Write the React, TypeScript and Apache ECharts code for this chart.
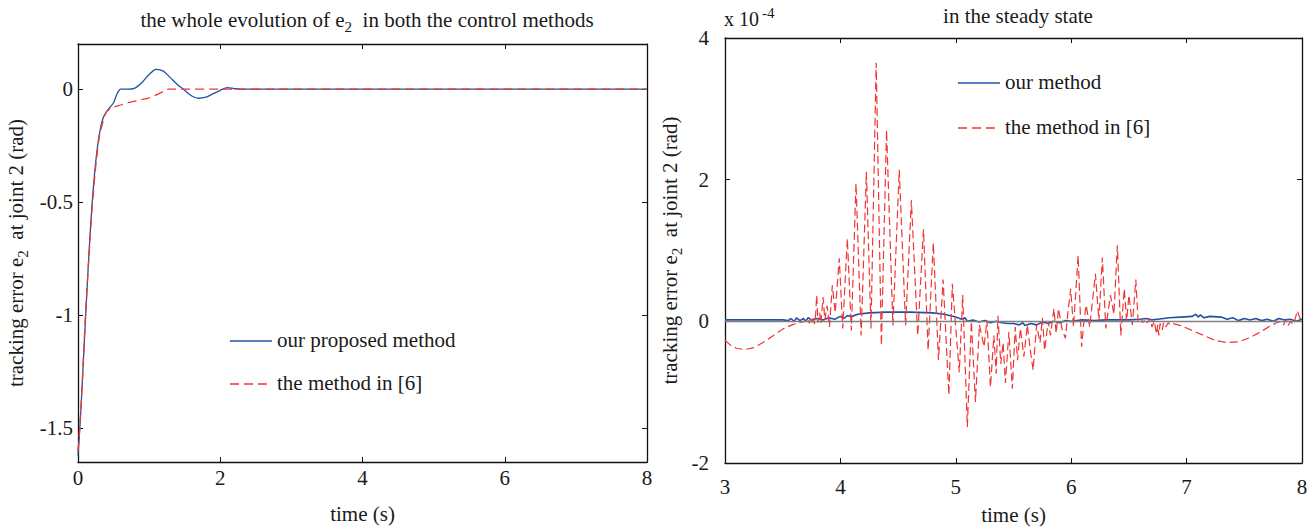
import React, { useEffect, useRef } from "react";
import * as echarts from "echarts";

const FONT = "'Liberation Serif', 'DejaVu Serif', serif";
const TXT = "#1a1a1a";
const BLUE = "#2251a3";
const RED = "#f03535";

// Left panel: whole evolution
const leftYTicks = [-1.5, -1, -0.5, 0];
const leftBlueT = [0, 0.03, 0.06, 0.1, 0.15, 0.2, 0.25, 0.3, 0.35, 0.4, 0.45, 0.5, 0.55, 0.6, 0.7, 0.8, 0.9, 1.0, 1.1, 1.2, 1.3, 1.4, 1.5, 1.6, 1.7, 1.8, 1.9, 2.0, 2.1, 2.2, 2.3, 8];
const leftBlueV = [-1.62, -1.48, -1.3, -1.05, -0.75, -0.5, -0.32, -0.2, -0.13, -0.1, -0.08, -0.06, -0.02, 0, 0, 0.005, 0.03, 0.065, 0.088, 0.08, 0.05, 0.02, -0.005, -0.03, -0.04, -0.035, -0.02, -0.005, 0.007, 0.002, 0, 0];
const leftRedT = [0, 0.03, 0.06, 0.1, 0.15, 0.2, 0.25, 0.3, 0.35, 0.4, 0.5, 0.6, 0.7, 0.8, 0.9, 1.0, 1.1, 1.2, 1.27, 8];
const leftRedV = [-1.6, -1.47, -1.3, -1.03, -0.76, -0.52, -0.34, -0.21, -0.145, -0.1, -0.08, -0.07, -0.06, -0.053, -0.046, -0.038, -0.025, -0.01, 0, 0];

// Right panel: steady state (x 10^-4)
const rightBlueT = [3.0, 3.5, 3.55, 3.57, 3.6, 3.62, 3.65, 3.68, 3.7, 3.72, 3.75, 3.8, 3.85, 3.9, 3.95, 4.0, 4.03, 4.06, 4.1, 4.15, 4.25, 4.4, 4.6, 4.8, 4.9, 5.0, 5.05, 5.08, 5.1, 5.15, 5.2, 5.25, 5.3, 5.35, 5.4, 5.45, 5.5, 5.55, 5.58, 5.6, 5.65, 5.7, 5.75, 5.8, 5.85, 5.9, 5.95, 6.0, 6.1, 6.2, 6.3, 6.4, 6.5, 6.6, 6.65, 6.7, 6.75, 6.85, 6.95, 7.05, 7.08, 7.1, 7.12, 7.15, 7.2, 7.3, 7.35, 7.4, 7.45, 7.5, 7.55, 7.6, 7.65, 7.7, 7.75, 7.8, 7.85, 7.9, 7.95, 8.0];
const rightBlueV = [0.02, 0.02, 0.01, 0.04, 0.0, 0.05, 0.01, 0.04, 0.0, 0.05, 0.02, 0.04, 0.02, 0.05, 0.03, 0.07, 0.04, 0.08, 0.07, 0.1, 0.12, 0.13, 0.13, 0.12, 0.1, 0.06, 0.03, 0.05, 0.0, 0.02, -0.01, 0.01, -0.02, 0.0, -0.02, -0.03, -0.03, -0.05, -0.02, -0.06, -0.03, -0.05, -0.01, -0.03, 0.0, -0.02, 0.01, 0.0, 0.02, 0.01, 0.02, 0.02, 0.02, 0.03, 0.04, 0.02, 0.03, 0.05, 0.06, 0.07, 0.1, 0.06, 0.09, 0.05, 0.07, 0.06, 0.03, 0.05, 0.01, 0.04, 0.02, 0.04, 0.01, 0.03, 0.0, 0.04, 0.02, 0.03, 0.0, 0.03];
const rightRedT = [3.0, 3.05, 3.1, 3.17, 3.25, 3.33, 3.42, 3.5, 3.58, 3.65, 3.7, 3.72, 3.73, 3.745, 3.755, 3.765, 3.775, 3.785, 3.795, 3.805, 3.82, 3.83, 3.85, 3.865, 3.885, 3.905, 3.93, 3.955, 3.99, 4.02, 4.06, 4.095, 4.135, 4.18, 4.225, 4.265, 4.31, 4.355, 4.4, 4.455, 4.51, 4.565, 4.615, 4.67, 4.72, 4.76, 4.805, 4.85, 4.89, 4.94, 4.97, 5.03, 5.06, 5.1, 5.135, 5.17, 5.205, 5.245, 5.27, 5.3, 5.33, 5.35, 5.365, 5.39, 5.41, 5.43, 5.46, 5.49, 5.515, 5.535, 5.56, 5.59, 5.62, 5.645, 5.67, 5.7, 5.73, 5.75, 5.77, 5.8, 5.82, 5.85, 5.87, 5.89, 5.92, 5.95, 5.97, 5.995, 6.02, 6.06, 6.09, 6.11, 6.13, 6.16, 6.21, 6.24, 6.27, 6.3, 6.34, 6.37, 6.4, 6.43, 6.46, 6.48, 6.5, 6.53, 6.56, 6.58, 6.6, 6.62, 6.64, 6.66, 6.68, 6.7, 6.72, 6.74, 6.75, 6.76, 6.77, 6.79, 6.8, 6.82, 6.84, 6.86, 6.88, 6.95, 7.05, 7.15, 7.25, 7.35, 7.45, 7.55, 7.65, 7.72, 7.78, 7.82, 7.84, 7.86, 7.88, 7.9, 7.92, 7.94, 7.96, 7.98, 8.0];
const rightRedV = [-0.27, -0.34, -0.38, -0.4, -0.37, -0.3, -0.2, -0.11, -0.05, -0.015, 0.0, 0.04, -0.03, 0.06, -0.02, 0.07, -0.04, 0.09, 0.37, -0.02, 0.12, -0.03, 0.34, 0.02, 0.22, -0.08, 0.51, 0.12, 0.89, -0.1, 1.17, -0.13, 1.95, -0.2, 2.11, -0.1, 3.65, -0.34, 2.7, -0.06, 2.14, -0.06, 1.71, -0.2, 1.3, -0.41, 1.11, -0.55, 0.59, -1.04, 0.53, -0.72, 0.37, -1.49, 0.0, -1.14, -0.05, -0.36, 0.02, -0.93, -0.2, -0.74, 0.08, -0.6, -0.3, -0.87, -0.15, -0.95, -0.08, -0.55, -0.1, -0.5, -0.05, -0.4, -0.69, -0.05, -0.3, 0.05, -0.41, 0.0, -0.2, 0.18, -0.17, 0.18, -0.1, -0.24, 0.1, 0.46, -0.08, 0.93, -0.36, 0.0, 0.23, -0.08, 0.67, 0.0, 0.9, -0.1, 0.37, 0.1, 1.07, -0.2, 0.46, 0.0, 0.37, -0.05, 0.59, 0.0, 0.05, -0.02, 0.03, -0.02, 0.04, -0.08, 0.0, -0.18, -0.05, -0.2, -0.03, -0.12, -0.02, -0.08, -0.02, -0.05, -0.03, -0.06, -0.13, -0.2, -0.27, -0.3, -0.29, -0.23, -0.14, -0.07, -0.02, 0.0, -0.05, 0.02, -0.06, 0.0, -0.04, 0.03, 0.15, 0.05, 0.02];

const leftLegend = ["our proposed method", "the method in [6]"];
const rightLegend = ["our method", "the method in [6]"];

const zip = (t: number[], v: number[]) => t.map((x, i) => [x, v[i]]);

const FS = 21;
const axisLine = { show: true, onZero: false, lineStyle: { color: "#111", width: 1.3 } };
const tick = { show: true, inside: true, length: 5, lineStyle: { color: "#111", width: 1 } };
const label = { color: TXT, fontFamily: FONT, fontSize: FS };

function xAxes(grid: number, min: number, max: number, interval: number, margin: number) {
  return [
    {
      type: "value", gridIndex: grid, min, max, interval, position: "bottom",
      axisLine, axisTick: tick, splitLine: { show: false },
      axisLabel: { ...label, margin, formatter: (v: number) => String(v) },
      name: "time (s)", nameLocation: "middle", nameGap: 41,
      nameTextStyle: { color: TXT, fontFamily: FONT, fontSize: FS },
    },
    {
      type: "value", gridIndex: grid, min, max, interval, position: "top",
      axisLine, axisTick: tick, splitLine: { show: false }, axisLabel: { show: false },
    },
  ];
}

const yName = "tracking error e{sub|2}  at joint 2 (rad)";
const yNameStyle = {
  color: TXT, fontFamily: FONT, fontSize: FS,
  rich: { sub: { fontFamily: FONT, fontSize: 15, color: TXT, padding: [13, 0, 0, 0] } },
};

function legendGraphics(x: number, y1: number, y2: number, names: string[]) {
  const txt = (y: number, s: string) => ({
    type: "text", left: x + 47, top: y - 12,
    style: { text: s, fill: TXT, font: `${FS}px ${FONT}` },
  });
  return [
    { type: "line", shape: { x1: x, y1, x2: x + 42, y2: y1 }, style: { stroke: BLUE, lineWidth: 1.4 } },
    txt(y1, names[0]),
    { type: "line", shape: { x1: x, y1: y2, x2: x + 42, y2 }, style: { stroke: RED, lineWidth: 1.3, lineDash: [9, 5] } },
    txt(y2, names[1]),
  ];
}

export default function App() {
  const ref = useRef<HTMLDivElement>(null);
  useEffect(() => {
    if (!ref.current) return;
    const chart = echarts.init(ref.current, null, { renderer: "svg" });
    const option: any = {
      animation: false,
      backgroundColor: "#fff",
      title: [
        {
          text: "the whole evolution of e{sub|2}  in both the control methods",
          left: 362, top: 1, textAlign: "center",
          textStyle: {
            color: TXT, fontFamily: FONT, fontSize: FS, fontWeight: "normal",
            rich: { sub: { fontFamily: FONT, fontSize: 15, color: TXT, padding: [13, 0, 0, 0] } },
          },
        },
        {
          text: "in the steady state",
          left: 1013, top: 0, textAlign: "center",
          textStyle: { color: TXT, fontFamily: FONT, fontSize: FS, fontWeight: "normal" },
        },
        {
          text: "x 10{sup|-4}",
          left: 719, top: 0,
          textStyle: {
            color: TXT, fontFamily: FONT, fontSize: 20, fontWeight: "normal",
            rich: { sup: { fontFamily: FONT, fontSize: 15, color: TXT, padding: [0, 0, 12, 3] } },
          },
        },
      ],
      graphic: [
        ...legendGraphics(230, 341, 384, leftLegend),
        ...legendGraphics(958, 83, 128, rightLegend),
      ],
      grid: [
        { left: 78, right: 660, top: 44, bottom: 67, outerBoundsMode: "none", containLabel: false },
        { left: 725, right: 5, top: 38, bottom: 66, outerBoundsMode: "none", containLabel: false },
      ],
      xAxis: [...xAxes(0, 0, 8, 2, 5), ...xAxes(1, 3, 8, 1, 13)],
      yAxis: [
        {
          type: "value", gridIndex: 0, min: -1.65, max: 0.2, position: "left",
          axisLine, axisTick: { ...tick, customValues: leftYTicks }, splitLine: { show: false },
          axisLabel: { ...label, margin: 5, customValues: leftYTicks, formatter: (v: number) => String(v) },
          name: yName, nameLocation: "middle", nameGap: 48, nameTextStyle: yNameStyle,
        },
        {
          type: "value", gridIndex: 0, min: -1.65, max: 0.2, position: "right",
          axisLine, axisTick: { ...tick, customValues: leftYTicks }, splitLine: { show: false },
          axisLabel: { show: false },
        },
        {
          type: "value", gridIndex: 1, min: -2, max: 4, interval: 2, position: "left",
          axisLine, axisTick: tick, splitLine: { show: false },
          axisLabel: { ...label, margin: 16, formatter: (v: number) => String(v) },
          name: yName, nameLocation: "middle", nameGap: 41, nameTextStyle: yNameStyle,
        },
        {
          type: "value", gridIndex: 1, min: -2, max: 4, interval: 2, position: "right",
          axisLine, axisTick: tick, splitLine: { show: false }, axisLabel: { show: false },
        },
      ],
      series: [
        {
          name: "our proposed method", type: "line", xAxisIndex: 0, yAxisIndex: 0,
          data: zip(leftBlueT, leftBlueV), showSymbol: false, symbol: "none", smooth: 0.3,
          lineStyle: { color: BLUE, width: 1.3 }, itemStyle: { color: BLUE },
        },
        {
          name: "the method in [6]", type: "line", xAxisIndex: 0, yAxisIndex: 0,
          data: zip(leftRedT, leftRedV), showSymbol: false, symbol: "none", smooth: 0.3,
          lineStyle: { color: RED, width: 1.3, type: [9, 5] }, itemStyle: { color: RED },
        },
        {
          name: "our method", type: "line", xAxisIndex: 2, yAxisIndex: 2,
          data: zip(rightBlueT, rightBlueV), showSymbol: false, symbol: "none",
          lineStyle: { color: BLUE, width: 1.6 }, itemStyle: { color: BLUE },
          markLine: {
            silent: true, symbol: "none", label: { show: false },
            lineStyle: { color: "#808080", width: 1.4, type: "solid" },
            data: [{ yAxis: 0 }],
          },
          z: 3,
        },
        {
          name: "the method in [6]", type: "line", xAxisIndex: 2, yAxisIndex: 2,
          data: zip(rightRedT, rightRedV), showSymbol: false, symbol: "none",
          lineStyle: { color: RED, width: 1.2, type: [8, 4] }, itemStyle: { color: RED },
          z: 4,
        },
      ],
    };
    chart.setOption(option);
    return () => chart.dispose();
  }, []);
  return (
    <div
      ref={ref}
      style={{ position: "fixed", left: 0, top: 0, width: 1307, height: 529, background: "#fff" }}
    />
  );
}
